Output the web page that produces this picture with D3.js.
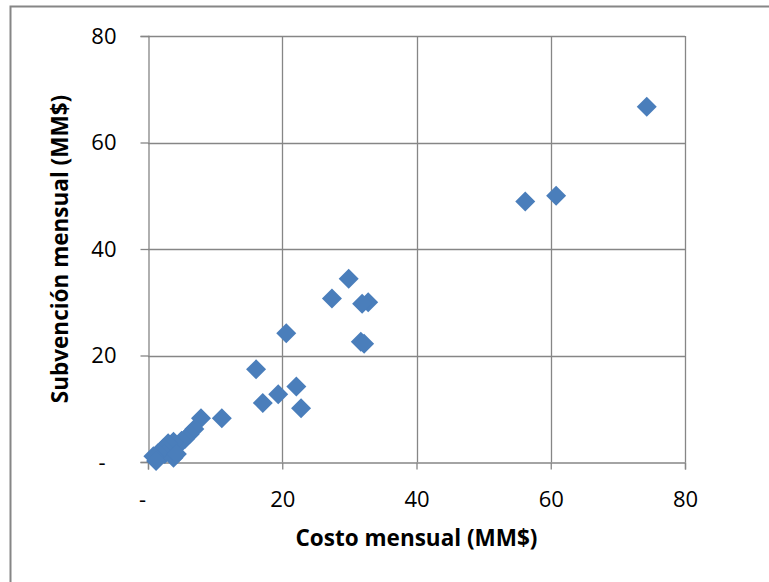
<!DOCTYPE html>
<html>
<head>
<meta charset="utf-8">
<script src="https://cdn.jsdelivr.net/npm/d3@7"></script>
<style>
  body { margin: 0; background: #fff; }
</style>
</head>
<body>
<div id="chart"></div>
<script>
// costo mensual (MM$) vs subvencion mensual (MM$)
const costo = [74.3, 60.8, 56.2, 29.9, 27.4, 32.8, 31.9, 20.6, 31.7, 32.2,
    16.1, 22.1, 19.4, 17.1, 22.8, 11.0, 7.9,
    6.9, 6.2, 5.5, 4.7, 5.0, 3.8, 3.0, 2.3, 2.5, 1.5, 0.8, 1.2, 3.8, 4.3]
const subvencion = [66.7, 50.0, 48.9, 34.4, 30.7, 30.0, 29.7, 24.2, 22.6, 22.2,
    17.4, 14.2, 12.7, 11.1, 10.1, 8.2, 8.2,
    6.2, 5.2, 4.3, 3.4, 4.0, 3.8, 3.5, 2.6, 1.5, 1.7, 1.1, 0.2, 0.8, 1.5]
const xTicks = [0, 20, 40, 60, 80]
const yTicks = [0, 20, 40, 60, 80]
const xTitle = "Costo mensual (MM$)"
const yTitle = "Subvención mensual (MM$)"

const W = 769, H = 582
const plot = { left: 148, right: 685, top: 36, bottom: 462 }
const GRID = "#868686"
const MARK = "#4a7ebb"
const FONT = "'Open Sans', Carlito, Calibri, sans-serif"

var svg = d3.select("#chart").append("svg")
    .attr("width", W)
    .attr("height", H)

// outer chart border
svg.append("rect")
    .attr("x", 10.5).attr("y", 6.5)
    .attr("width", W).attr("height", H)
    .attr("fill", "none")
    .attr("stroke", GRID)
    .attr("stroke-width", 2)

var x = d3.scaleLinear().domain([0, 80]).range([plot.left, plot.right])
var y = d3.scaleLinear().domain([0, 80]).range([plot.bottom, plot.top])

var fmt = d => d === 0 ? "-" : d

// gridlines
svg.append("g").selectAll("line.vgrid")
    .data(xTicks.filter(d => d > 0))
    .enter().append("line")
    .attr("x1", d => Math.round(x(d)) + 0.5).attr("x2", d => Math.round(x(d)) + 0.5)
    .attr("y1", plot.top).attr("y2", plot.bottom)
    .attr("stroke", GRID).attr("stroke-width", 1.3)

svg.append("g").selectAll("line.hgrid")
    .data(yTicks.filter(d => d > 0))
    .enter().append("line")
    .attr("x1", plot.left).attr("x2", plot.right)
    .attr("y1", d => Math.round(y(d)) + 0.5).attr("y2", d => Math.round(y(d)) + 0.5)
    .attr("stroke", GRID).attr("stroke-width", 1.3)

// axes
var xAxis = svg.append("g")
    .attr("transform", "translate(0," + (plot.bottom + 0.5) + ")")
    .call(d3.axisBottom(x).tickValues(xTicks).tickFormat(fmt).tickSize(7).tickPadding(22))
var yAxis = svg.append("g")
    .attr("transform", "translate(" + (plot.left + 0.5) + ",0)")
    .call(d3.axisLeft(y).tickValues(yTicks).tickFormat(fmt).tickSize(8).tickPadding(24))

svg.selectAll(".domain, .tick line")
    .attr("stroke", GRID)
    .attr("stroke-width", 1.3)

svg.selectAll(".tick text")
    .attr("font-family", FONT)
    .attr("font-size", 22)
    .attr("fill", "#000")

// the dash labels sit off-centre like in the spreadsheet
xAxis.selectAll(".tick text").filter(d => d === 0).attr("dx", -6)
yAxis.selectAll(".tick text").filter(d => d === 0).attr("dx", -11)

// titles
svg.append("text")
    .attr("x", (plot.left + plot.right) / 2)
    .attr("y", 546)
    .attr("text-anchor", "middle")
    .attr("font-family", FONT).attr("font-size", 22.5).attr("font-weight", "bold")
    .text(xTitle)

svg.append("text")
    .attr("transform", "translate(68," + (plot.top + plot.bottom) / 2 + ") rotate(-90)")
    .attr("text-anchor", "middle")
    .attr("font-family", FONT).attr("font-size", 22.5).attr("font-weight", "bold")
    .text(yTitle)

// diamond markers
var diamond = "M0,-10L10,0L0,10L-10,0Z"
svg.append("g").selectAll("path.pt")
    .data(costo.map((c, i) => ({ c: c, s: subvencion[i] })))
    .enter().append("path")
    .attr("class", "pt")
    .attr("d", diamond)
    .attr("transform", d => "translate(" + x(d.c) + "," + y(d.s) + ")")
    .attr("fill", MARK)
</script>
</body>
</html>
